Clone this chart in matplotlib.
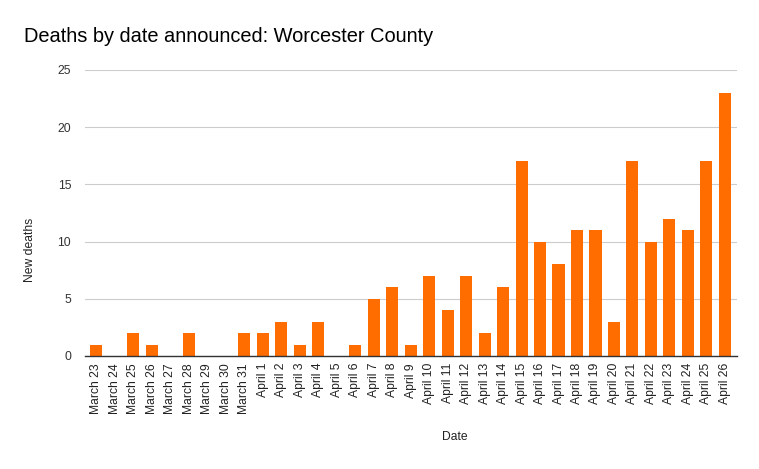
import matplotlib.pyplot as plt

plt.rcParams['font.family'] = ['Liberation Sans', 'DejaVu Sans']

dates = ['March 23', 'March 24', 'March 25', 'March 26', 'March 27', 'March 28',
         'March 29', 'March 30', 'March 31', 'April 1', 'April 2', 'April 3',
         'April 4', 'April 5', 'April 6', 'April 7', 'April 8', 'April 9',
         'April 10', 'April 11', 'April 12', 'April 13', 'April 14', 'April 15',
         'April 16', 'April 17', 'April 18', 'April 19', 'April 20', 'April 21',
         'April 22', 'April 23', 'April 24', 'April 25', 'April 26']
new_deaths = [1, 0, 2, 1, 0, 2, 0, 0, 2, 2, 3, 1, 3, 0, 1, 5, 6, 1,
              7, 4, 7, 2, 6, 17, 10, 8, 11, 11, 3, 17, 10, 12, 11, 17, 23]
y_ticks = [0, 5, 10, 15, 20, 25]

fig = plt.figure(figsize=(7.59, 4.69), dpi=100)
ax = fig.add_axes([0.112, 0.241, 0.859, 0.610])

x = list(range(len(dates)))
ax.bar(x, new_deaths, width=0.65, color='#ff6d01', zorder=3)

ax.set_xlim(-0.6, len(dates) - 0.35)
ax.set_ylim(0, 25)
ax.set_yticks(y_ticks)
ax.set_xticks(x)
ax.set_xticklabels(dates, rotation=90, fontsize=8.7, color='#222222')
ax.tick_params(axis='y', labelsize=8.7, labelcolor='#333333', length=0, pad=10)
ax.tick_params(axis='x', length=0, pad=5)

ax.grid(axis='y', color='#cccccc', linewidth=0.8, zorder=0)
for s in ['top', 'right', 'left']:
    ax.spines[s].set_visible(False)
ax.spines['bottom'].set_color('#333333')
ax.spines['bottom'].set_linewidth(1.0)
ax.spines['bottom'].set_zorder(4)

fig.text(24 / 759, 1 - 37 / 469, 'Deaths by date announced: Worcester County',
         fontsize=14.4, color='#000000', va='center', ha='left')
fig.text(30 / 759, 1 - 250 / 469, 'New deaths', rotation=90, fontsize=8.7,
         va='center', ha='center', color='#222222')
fig.text(455 / 759, 1 - 437 / 469, 'Date', fontsize=8.7,
         va='center', ha='center', color='#222222')

fig.savefig('out.png', dpi=100)
